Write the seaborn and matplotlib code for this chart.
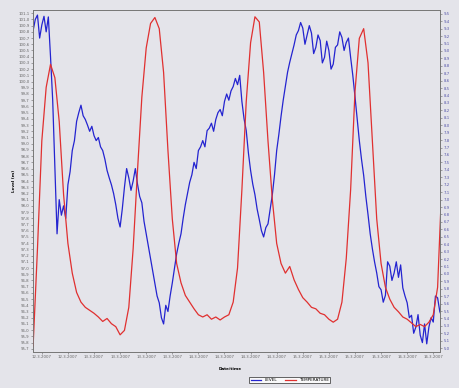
import numpy as np
import pandas as pd
import matplotlib
matplotlib.use("Agg")
import matplotlib.pyplot as plt
import seaborn as sns

# Level (m), half-hourly from hour 10 of 12.3.2007
level = [100.82, 101.00, 101.07, 100.70, 100.91, 101.05, 100.80, 101.04, 100.40, 99.70,
         98.60, 97.55, 98.10, 97.85, 98.00, 97.80, 98.34, 98.55, 98.89, 99.05,
         99.36, 99.50, 99.62, 99.45, 99.39, 99.30, 99.20, 99.28, 99.13, 99.05,
         99.10, 98.95, 98.89, 98.75, 98.57, 98.45, 98.34, 98.20, 98.02, 97.80,
         97.66, 97.95, 98.30, 98.60, 98.45, 98.25, 98.40, 98.60, 98.35, 98.15,
         98.05, 97.75, 97.55, 97.35, 97.15, 96.95, 96.76, 96.55, 96.44, 96.20,
         96.10, 96.40, 96.30, 96.55, 96.76, 97.00, 97.23, 97.40, 97.55, 97.80,
         98.02, 98.20, 98.38, 98.50, 98.70, 98.60, 98.89, 98.95, 99.05, 98.95,
         99.21, 99.25, 99.33, 99.20, 99.39, 99.50, 99.55, 99.45, 99.68, 99.80,
         99.70, 99.85, 99.92, 100.05, 99.95, 100.10, 99.68, 99.40, 99.21, 98.85,
         98.57, 98.35, 98.18, 97.95, 97.78, 97.60, 97.50, 97.65, 97.71, 97.95,
         98.18, 98.50, 98.89, 99.15, 99.44, 99.70, 99.92, 100.15, 100.31, 100.45,
         100.59, 100.75, 100.82, 100.95, 100.86, 100.60, 100.75, 100.90, 100.78, 100.45,
         100.55, 100.75, 100.66, 100.30, 100.39, 100.65, 100.50, 100.20, 100.28, 100.55,
         100.59, 100.80, 100.71, 100.50, 100.63, 100.70, 100.39, 100.10, 99.76, 99.40,
         99.05, 98.75, 98.49, 98.15, 97.86, 97.55, 97.31, 97.10, 96.92, 96.70,
         96.65, 96.45, 96.56, 97.10, 97.03, 96.80, 96.92, 97.10, 96.85, 97.05,
         96.68, 96.55, 96.44, 96.20, 96.24, 95.95, 96.05, 96.25, 95.92, 95.80,
         96.10, 95.78, 96.05, 96.20, 96.13, 96.55, 96.52, 96.30, 96.21]

# Temperature, hourly from hour 10 of 12.3.2007
temperature = [5.03, 6.34, 7.79, 8.51, 8.82, 8.64, 8.05, 7.07, 6.41, 6.01,
               5.75, 5.62, 5.55, 5.51, 5.47, 5.42, 5.36, 5.40, 5.33, 5.29,
               5.18, 5.24, 5.55, 6.34, 7.39, 8.38, 9.04, 9.37, 9.45, 9.30,
               8.71, 7.66, 6.74, 6.14, 5.88, 5.71, 5.62, 5.53, 5.45, 5.42,
               5.45, 5.39, 5.42, 5.38, 5.42, 5.45, 5.62, 6.08, 7.13, 8.32,
               9.11, 9.46, 9.39, 8.71, 7.79, 7.00, 6.41, 6.14, 6.01, 6.10,
               5.92, 5.79, 5.68, 5.62, 5.55, 5.53, 5.47, 5.45, 5.39, 5.35,
               5.39, 5.62, 6.21, 7.13, 8.45, 9.17, 9.30, 8.84, 7.79, 6.74,
               6.14, 5.82, 5.66, 5.55, 5.49, 5.42, 5.39, 5.34, 5.29, 5.32,
               5.29, 5.35, 5.45, 5.82, 7.26]

tick_labels = ["12.3.2007", "12.3.2007", "13.3.2007", "13.3.2007", "13.3.2007", "13.3.2007",
               "14.3.2007", "14.3.2007", "14.3.2007", "14.3.2007", "15.3.2007", "15.3.2007",
               "15.3.2007", "15.3.2007", "16.3.2007", "16.3.2007"]

t_level = 10 + 0.5 * np.arange(len(level))
t_temp = 10 + 1.0 * np.arange(len(temperature))
df_l = pd.DataFrame({"t": t_level, "v": level})
df_t = pd.DataFrame({"t": t_temp, "v": temperature})

bg = "#e4e4ea"
fig = plt.figure(figsize=(4.6, 3.88), dpi=100, facecolor=bg)
ax = fig.add_axes([0.072, 0.093, 0.885, 0.881])
ax.set_facecolor(bg)
ax2 = ax.twinx()

sns.lineplot(data=df_l, x="t", y="v", ax=ax, color="#2424d0", lw=0.9, label="LEVEL", legend=False)
sns.lineplot(data=df_t, x="t", y="v", ax=ax2, color="#e03030", lw=0.9, label="TEMPERATURE", legend=False)

ax.set_xlim(10, 103.6)
ax.set_ylim(95.65, 101.15)
ax2.set_ylim(4.95, 9.55)

ticks = 12 + 6 * np.arange(len(tick_labels))
ax.set_xticks(ticks)
ax.set_xticklabels(tick_labels, fontsize=2.8, color="#555555")
lt = np.round(np.arange(95.7, 101.11, 0.1), 1)
ax.set_yticks(lt)
ax.set_yticklabels([f"{v:.1f}".replace(".", ",") for v in lt], fontsize=2.8, color="#666666")
rt = np.round(np.arange(5.0, 9.51, 0.1), 1)
ax2.set_yticks(rt)
ax2.set_yticklabels([f"{v:.1f}".replace(".", ",") for v in rt], fontsize=2.8, color="#5555aa")
for a in (ax, ax2):
    a.tick_params(length=1.5, width=0.4, pad=1, colors="#666666")
    a.set_xlabel("")
    a.set_ylabel("")
    for s in a.spines.values():
        s.set_color("#777777")
        s.set_linewidth(0.6)
ax2.tick_params(axis="y", labelcolor="#5555aa")

ax.set_ylabel("Level (m)", fontsize=3, fontweight="bold", labelpad=2)
fig.text(0.5, 0.05, "Date/time", fontsize=3, fontweight="bold", ha="center", va="center")

h1, l1 = ax.get_legend_handles_labels()
h2, l2 = ax2.get_legend_handles_labels()
leg = fig.legend(h1 + h2, l1 + l2, loc="center", bbox_to_anchor=(0.63, 0.02), ncol=2,
                 fontsize=3, frameon=True, fancybox=False, handlelength=2.5,
                 borderpad=0.3, columnspacing=2)
leg.get_frame().set_edgecolor("#222222")
leg.get_frame().set_linewidth(0.6)
leg.get_frame().set_facecolor("white")

fig.savefig("out.png", dpi=100, facecolor=bg)
